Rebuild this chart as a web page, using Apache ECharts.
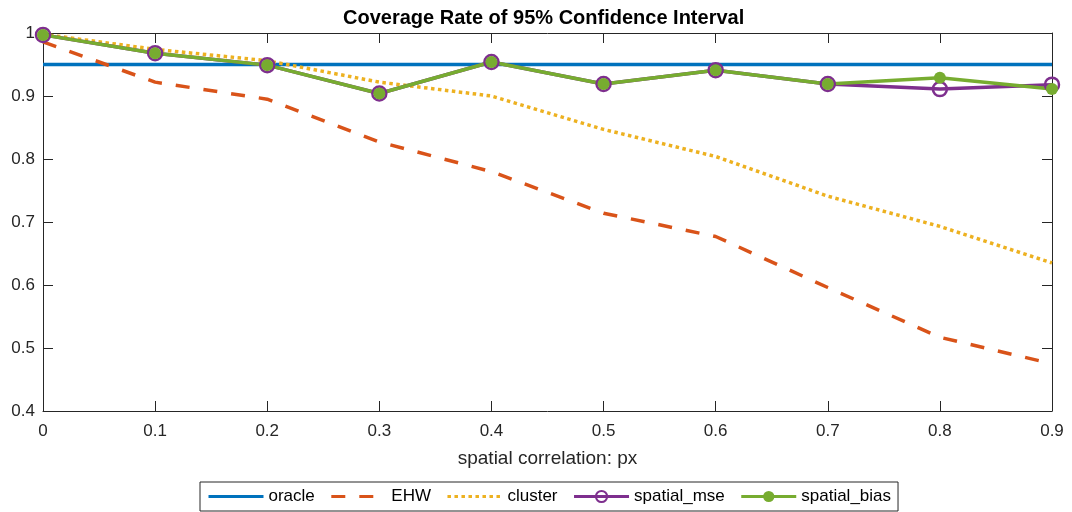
<!DOCTYPE html>
<html>
<head>
<meta charset="utf-8">
<title>Coverage Rate of 95% Confidence Interval</title>
<script src="https://cdn.jsdelivr.net/npm/echarts@6/dist/echarts.min.js"></script>
<style>
  html, body { margin: 0; padding: 0; background: #ffffff; }
  #chart { width: 1072px; height: 512px; }
</style>
</head>
<body>
<div id="chart"></div>
<script>
// spatial correlation levels on the x axis
const px = [0, 0.1, 0.2, 0.3, 0.4, 0.5, 0.6, 0.7, 0.8, 0.9];

// coverage rates of the nominal 95% interval for each estimator
const oracle      = [0.95, 0.95, 0.95, 0.95, 0.95, 0.95, 0.95, 0.95, 0.95, 0.95];
const ehw         = [0.986, 0.922, 0.895, 0.827, 0.780, 0.714, 0.677, 0.596, 0.517, 0.475];
const cluster     = [0.998, 0.974, 0.956, 0.922, 0.900, 0.847, 0.804, 0.741, 0.693, 0.635];
const spatialMse  = [0.997, 0.968, 0.949, 0.904, 0.954, 0.919, 0.941, 0.919, 0.911, 0.918];
const spatialBias = [0.997, 0.968, 0.949, 0.904, 0.954, 0.919, 0.941, 0.919, 0.929, 0.911];

const seriesNames = ['oracle', 'EHW', 'cluster', 'spatial_mse', 'spatial_bias'];

const FONT = '"Liberation Sans", Arial, Helvetica, sans-serif';
const AXIS_COLOR = '#262626';
const CLEAR = 'rgba(255,255,255,0)';

const pairs = (ys) => px.map((x, i) => [x, ys[i]]);

const chart = echarts.init(document.getElementById('chart'), null, { renderer: 'canvas' });

const boxAxis = (extra) => Object.assign({
  type: 'value',
  axisLine: { show: true, onZero: false, lineStyle: { color: AXIS_COLOR, width: 1 } },
  axisTick: { show: true, inside: true, length: 10, lineStyle: { color: AXIS_COLOR, width: 1 } },
  splitLine: { show: false }
}, extra);

// plain line series: no markers, and a marker-free legend sample
const plainLine = (name, ys, lineStyle) => ({
  name, type: 'line', data: pairs(ys),
  showSymbol: false, symbol: 'none',
  lineStyle,
  itemStyle: { color: CLEAR, borderWidth: 0 }
});

chart.setOption({
  animation: false,
  backgroundColor: '#ffffff',
  textStyle: { fontFamily: FONT },
  title: {
    text: 'Coverage Rate of 95% Confidence Interval',
    left: 343,
    top: 8,
    padding: 0,
    textStyle: { fontFamily: FONT, fontSize: 20, fontWeight: 'bold', color: '#000000', lineHeight: 20 }
  },
  grid: { left: 43, right: 20, top: 33, bottom: 101, containLabel: false },
  legend: {
    data: seriesNames,
    left: 200,
    top: 482,
    orient: 'horizontal',
    itemWidth: 55,
    itemHeight: 14,
    itemGap: 15,
    padding: [6, 7],
    borderColor: AXIS_COLOR,
    borderWidth: 1,
    backgroundColor: '#ffffff',
    lineStyle: { width: 3 },
    textStyle: { fontFamily: FONT, fontSize: 17, color: '#000000' }
  },
  xAxis: [
    boxAxis({
      position: 'bottom',
      min: 0, max: 0.9, interval: 0.1,
      name: 'spatial correlation: px',
      nameLocation: 'middle',
      nameGap: 38,
      nameTextStyle: { fontFamily: FONT, fontSize: 19, color: AXIS_COLOR },
      axisLabel: { show: true, margin: 12, fontFamily: FONT, fontSize: 17, color: AXIS_COLOR }
    }),
    boxAxis({
      position: 'top',
      min: 0, max: 0.9, interval: 0.1,
      axisLabel: { show: false }
    })
  ],
  yAxis: [
    boxAxis({
      position: 'left',
      min: 0.4, max: 1, interval: 0.1,
      axisLabel: { show: true, margin: 8, fontFamily: FONT, fontSize: 17, color: AXIS_COLOR }
    }),
    boxAxis({
      position: 'right',
      min: 0.4, max: 1, interval: 0.1,
      axisLabel: { show: false }
    })
  ],
  series: [
    plainLine('oracle', oracle, { color: '#0072BD', width: 3.5 }),
    plainLine('EHW', ehw, { color: '#D95319', width: 3.5, type: [14, 14], cap: 'butt' }),
    plainLine('cluster', cluster, { color: '#EDB120', width: 3.5, type: [3.5, 3.5], cap: 'butt' }),
    {
      name: 'spatial_mse', type: 'line', data: pairs(spatialMse),
      symbol: 'circle', symbolSize: 14,
      lineStyle: { color: '#7E2F8E', width: 3.5 },
      itemStyle: { color: CLEAR, borderColor: '#7E2F8E', borderWidth: 2.5 }
    },
    {
      name: 'spatial_bias', type: 'line', data: pairs(spatialBias),
      symbol: 'circle', symbolSize: 12,
      lineStyle: { color: '#77AC30', width: 3.5 },
      itemStyle: { color: '#77AC30', borderWidth: 0 }
    }
  ]
});
</script>
</body>
</html>
